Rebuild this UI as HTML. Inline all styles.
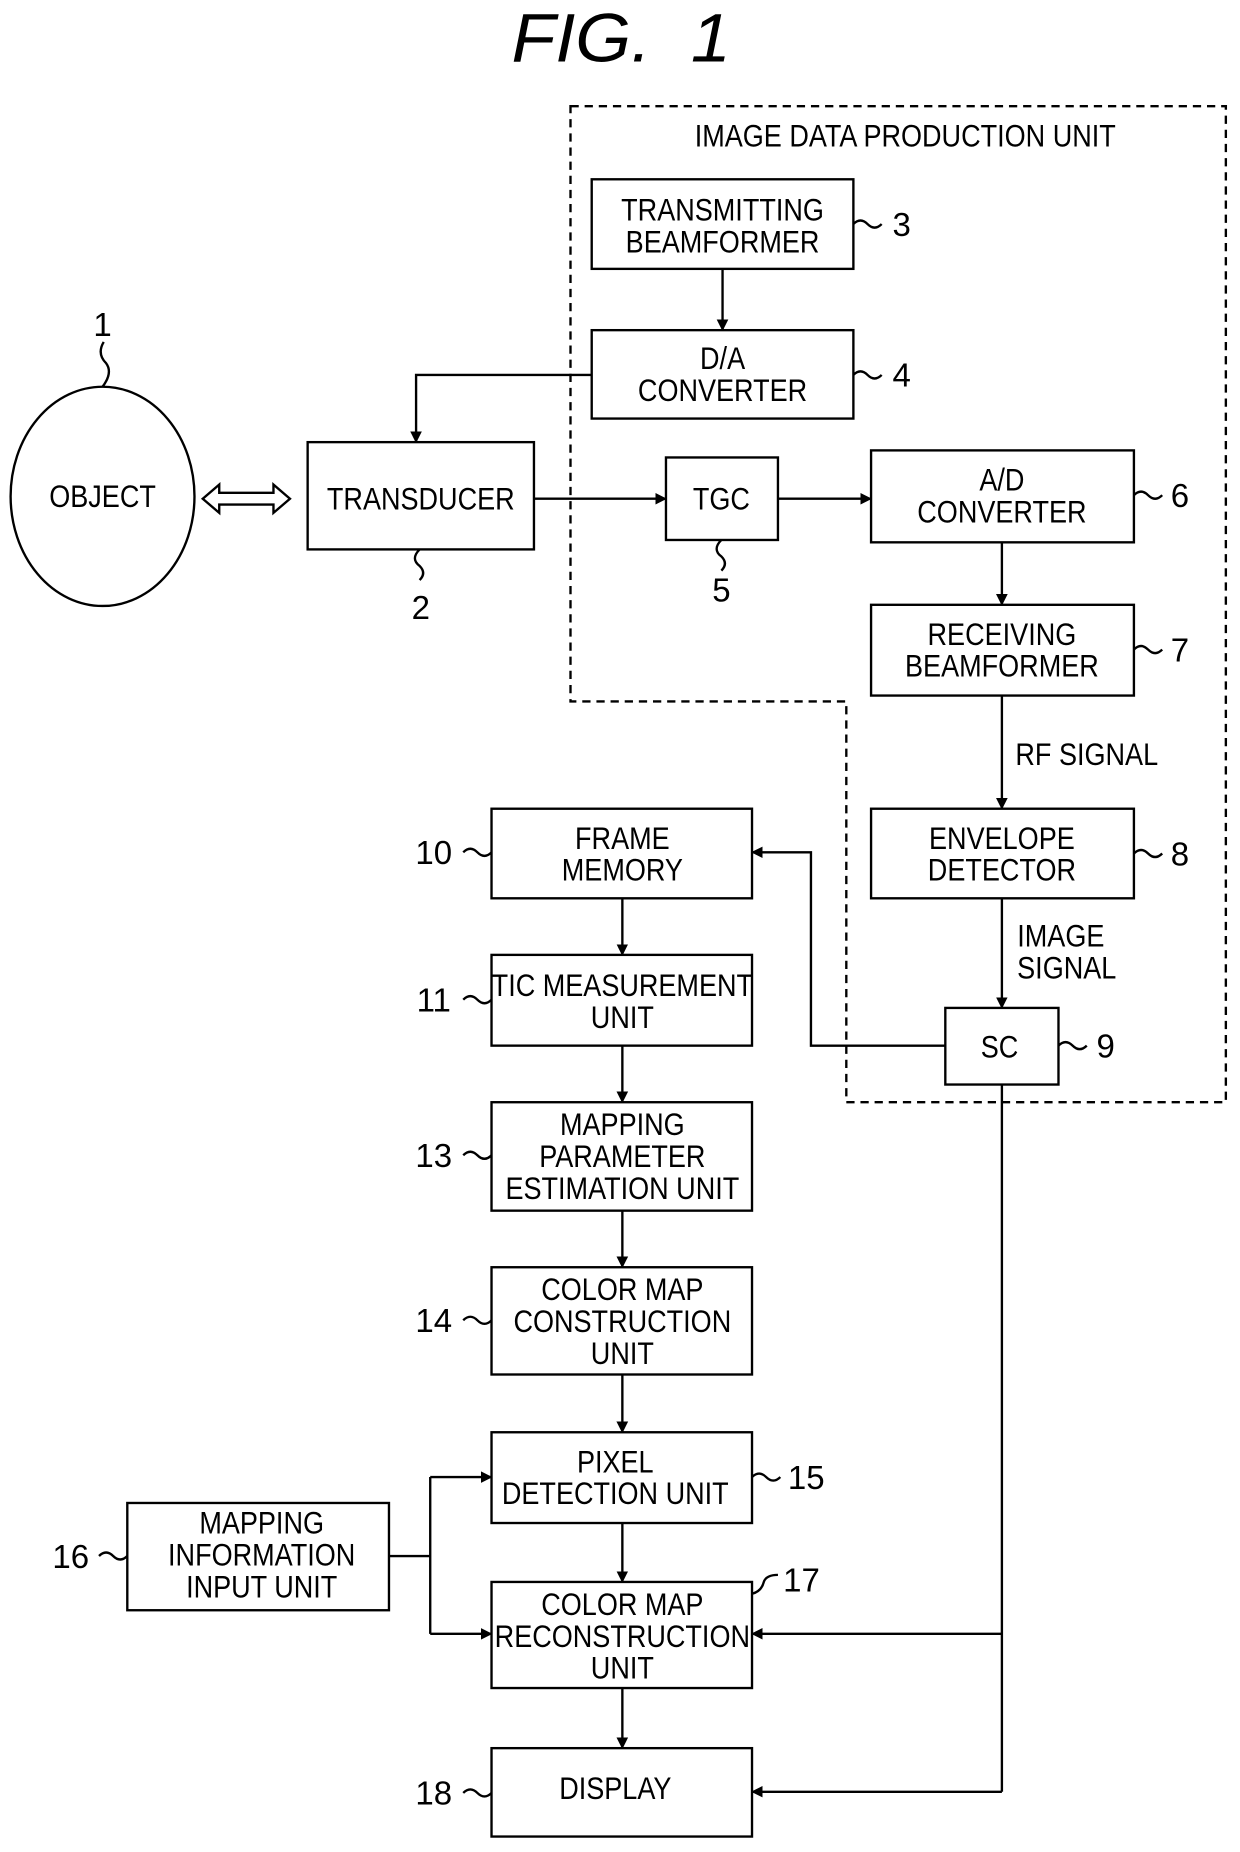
<!DOCTYPE html>
<html><head><meta charset="utf-8"><style>
html,body{margin:0;padding:0;background:#fff;}
svg{display:block;}
text{font-family:"Liberation Sans",sans-serif;font-size:27px;fill:#000;text-anchor:middle;transform-box:fill-box;transform-origin:center;transform:scaleX(0.85);}
text.n{font-size:28px;transform:none;}
text.t{transform:scaleX(1.05);}
</style></head><body>
<svg width="1240" height="1852" viewBox="0 0 1052 1571" xmlns="http://www.w3.org/2000/svg">
<defs><marker id="a" markerWidth="10" markerHeight="10" refX="9" refY="5" orient="auto" markerUnits="userSpaceOnUse"><path d="M0,0 L10,5 L0,10 z" fill="#000" transform="scale(1.4) translate(-3,-1.4)"/></marker></defs>
<text class="t" x="527" y="52" style="font-size:58px;font-style:italic" xml:space="preserve">FIG.  1</text>
<path d="M484,90 H1040 V935 H718 V595 H484 Z" fill="none" stroke="#000" stroke-width="2" stroke-dasharray="7,5"/>
<text x="768" y="124">IMAGE DATA PRODUCTION UNIT</text>
<g fill="none" stroke="#000" stroke-width="2">
<rect x="502" y="152" width="222" height="76"/>
<rect x="502" y="280" width="222" height="75"/>
<rect x="261" y="375" width="192" height="91"/>
<ellipse cx="87" cy="421" rx="78" ry="93"/>
<rect x="565" y="388" width="95" height="70"/>
<rect x="739" y="382" width="223" height="78"/>
<rect x="739" y="513" width="223" height="77"/>
<rect x="739" y="686" width="223" height="76"/>
<rect x="802" y="855" width="96" height="65"/>
<rect x="417" y="686" width="221" height="76"/>
<rect x="417" y="810" width="221" height="77"/>
<rect x="417" y="935" width="221" height="92"/>
<rect x="417" y="1075" width="221" height="91"/>
<rect x="417" y="1215" width="221" height="77"/>
<rect x="108" y="1275" width="222" height="91"/>
<rect x="417" y="1342" width="221" height="90"/>
<rect x="417" y="1483" width="221" height="75"/>
<path d="M172,423 l14,-12 v7 h46 v-7 l14,12 l-14,12 v-7 h-46 v7 z"/>
<path d="M613,228 V280" marker-end="url(#a)"/>
<path d="M502,318 H353 V375" marker-end="url(#a)"/>
<path d="M453,423 H565" marker-end="url(#a)"/>
<path d="M660,423 H739" marker-end="url(#a)"/>
<path d="M850,460 V513" marker-end="url(#a)"/>
<path d="M850,590 V686" marker-end="url(#a)"/>
<path d="M850,762 V855" marker-end="url(#a)"/>
<path d="M802,887 H688 V723 H638" marker-end="url(#a)"/>
<path d="M528,762 V810" marker-end="url(#a)"/>
<path d="M528,887 V935" marker-end="url(#a)"/>
<path d="M528,1027 V1075" marker-end="url(#a)"/>
<path d="M528,1166 V1215" marker-end="url(#a)"/>
<path d="M528,1292 V1342" marker-end="url(#a)"/>
<path d="M528,1432 V1483" marker-end="url(#a)"/>
<path d="M330,1320 H365"/>
<path d="M365,1253 V1386"/>
<path d="M365,1253 H417" marker-end="url(#a)"/>
<path d="M365,1386 H417" marker-end="url(#a)"/>
<path d="M850,920 V1520"/>
<path d="M850,1386 H638" marker-end="url(#a)"/>
<path d="M850,1520 H638" marker-end="url(#a)"/>
<path d="M88,290 q-6,10 2,18 q6,8 -3,20"/>
<path d="M724,190 q6,-6 12,0 t12,0"/>
<path d="M724,318 q6,-6 12,0 t12,0"/>
<path d="M962,420 q6,-6 12,0 t12,0"/>
<path d="M962,551 q6,-6 12,0 t12,0"/>
<path d="M962,724 q6,-6 12,0 t12,0"/>
<path d="M898,887 q6,-6 12,0 t12,0"/>
<path d="M638,1253 q6,-6 12,0 t12,0"/>
<path d="M638,1352 q8,-2 10,-10 q2,-6 12,-6"/>
<path d="M356,466 q-8,8 0,14 q6,6 0,12"/>
<path d="M612,458 q-8,8 0,14 q6,6 0,12"/>
<path d="M393,723 q6,-6 12,0 t12,0"/>
<path d="M393,848 q6,-6 12,0 t12,0"/>
<path d="M393,980 q6,-6 12,0 t12,0"/>
<path d="M393,1120 q6,-6 12,0 t12,0"/>
<path d="M393,1521 q6,-6 12,0 t12,0"/>
<path d="M84,1320 q6,-6 12,0 t12,0"/>
</g>
<text x="613" y="187">TRANSMITTING</text><text x="613" y="214">BEAMFORMER</text>
<text x="613" y="313">D/A</text><text x="613" y="340">CONVERTER</text>
<text x="357" y="432">TRANSDUCER</text>
<text x="87" y="430">OBJECT</text>
<text x="612" y="432">TGC</text>
<text x="850" y="416">A/D</text><text x="850" y="443">CONVERTER</text>
<text x="850" y="547">RECEIVING</text><text x="850" y="574">BEAMFORMER</text>
<text x="922" y="649">RF SIGNAL</text>
<text x="850" y="720">ENVELOPE</text><text x="850" y="747">DETECTOR</text>
<text x="900" y="803">IMAGE</text><text x="905" y="830">SIGNAL</text>
<text x="848" y="897">SC</text>
<text x="528" y="720">FRAME</text><text x="528" y="747">MEMORY</text>
<text x="528" y="845">TIC MEASUREMENT</text><text x="528" y="872">UNIT</text>
<text x="528" y="963">MAPPING</text><text x="528" y="990">PARAMETER</text><text x="528" y="1017">ESTIMATION UNIT</text>
<text x="528" y="1103">COLOR MAP</text><text x="528" y="1130">CONSTRUCTION</text><text x="528" y="1157">UNIT</text>
<text x="522" y="1249">PIXEL</text><text x="522" y="1276">DETECTION UNIT</text>
<text x="222" y="1301">MAPPING</text><text x="222" y="1328">INFORMATION</text><text x="222" y="1355">INPUT UNIT</text>
<text x="528" y="1370">COLOR MAP</text><text x="528" y="1397">RECONSTRUCTION</text><text x="528" y="1424">UNIT</text>
<text x="522" y="1526">DISPLAY</text>
<text class="n" x="87" y="285">1</text>
<text class="n" x="357" y="525">2</text>
<text class="n" x="765" y="200">3</text>
<text class="n" x="765" y="328">4</text>
<text class="n" x="612" y="510">5</text>
<text class="n" x="1001" y="430">6</text>
<text class="n" x="1001" y="561">7</text>
<text class="n" x="1001" y="734">8</text>
<text class="n" x="938" y="897">9</text>
<text class="n" x="368" y="733">10</text>
<text class="n" x="368" y="858">11</text>
<text class="n" x="368" y="990">13</text>
<text class="n" x="368" y="1130">14</text>
<text class="n" x="684" y="1263">15</text>
<text class="n" x="60" y="1330">16</text>
<text class="n" x="680" y="1350">17</text>
<text class="n" x="368" y="1531">18</text>
</svg>
</body></html>
